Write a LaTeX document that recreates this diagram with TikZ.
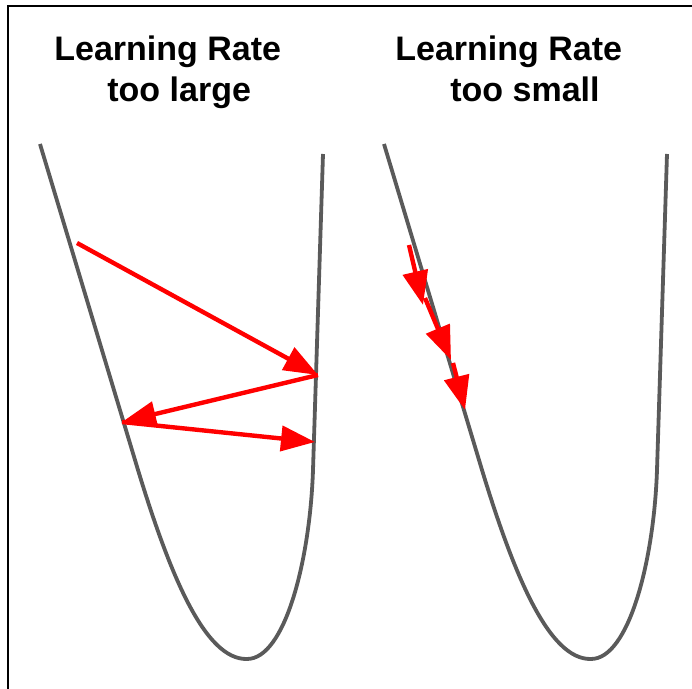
\documentclass[tikz,border=0pt]{standalone}
\usepackage{fontspec}
\setmainfont{Liberation Sans}
\usetikzlibrary{arrows.meta}
\definecolor{curvegray}{HTML}{5A5A5A}
\definecolor{arrowred}{HTML}{FF0000}
\begin{document}
\begin{tikzpicture}[x=0.5pt,y=-0.5pt,
  bowl/.style={draw=curvegray, line width=1.9pt},
  redarrow/.style={draw=arrowred, line width=2.2pt, -{Triangle[length=17pt,width=12.5pt]}},
  title/.style={font=\bfseries\fontsize{17}{20}\selectfont, anchor=base west, inner sep=0pt}]
\useasboundingbox (0,0) rectangle (692,689);
% frame (top and left only)
\draw[line width=1.25pt] (692,6) -- (8,6) -- (8,689);
% titles
\node[title] (t1a) at (54,61) {Learning Rate};
\node[title] (t1b) at (107,102) {too large};
\node[title] (t2a) at (395,61) {Learning Rate};
\node[title] (t2b) at (450,102) {too small};
% curves
\draw[bowl] (40,144) -- (138,470) .. controls (170,575) and (205,660) .. (247,659)
  .. controls (285,659) and (310,560) .. (313,470) -- (323,154);
\draw[bowl] (384,144) -- (482,470) .. controls (514,575) and (549,660) .. (591,659)
  .. controls (629,659) and (654,560) .. (657,470) -- (667,154);
% left arrows
\coordinate (p0) at (77,243);
\coordinate (p1) at (318,375);
\coordinate (p2) at (122,422);
\coordinate (p3) at (315,442);
\draw[redarrow] (p0) -- (p1);
\draw[redarrow] (p1) -- (p2);
\draw[redarrow] (p2) -- (p3);
% right arrows
\coordinate (q0) at (409,245);
\coordinate (q1) at (423,305);
\coordinate (q2) at (425,298);
\coordinate (q3) at (451,360);
\coordinate (q4) at (453,363);
\coordinate (q5) at (465,410);
\draw[redarrow] (q0) -- (q1);
\draw[redarrow] (q2) -- (q3);
\draw[redarrow] (q4) -- (q5);
\end{tikzpicture}
\end{document}
